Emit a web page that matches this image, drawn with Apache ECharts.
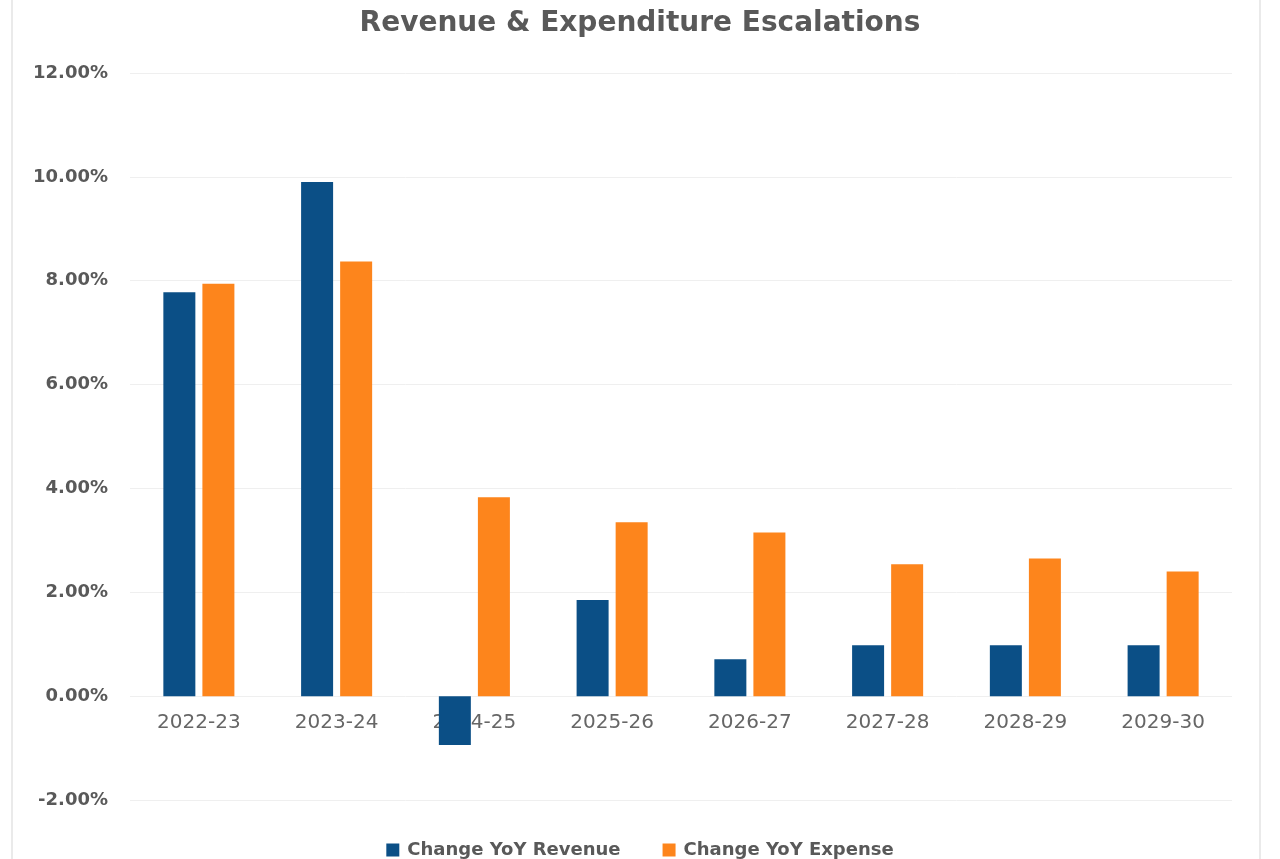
<!DOCTYPE html>
<html>
<head>
<meta charset="utf-8">
<title>Revenue & Expenditure Escalations</title>
<script src="https://cdn.jsdelivr.net/npm/echarts@6/dist/echarts.min.js"></script>
<style>
  html, body { margin: 0; padding: 0; background: #fff; }
  #chart { width: 1280px; height: 859px; }
</style>
</head>
<body>
<div id="chart"></div>
<script>
  // data (percent)
  let years = ['2022-23', '2023-24', '2024-25', '2025-26', '2026-27', '2027-28', '2028-29', '2029-30']
  let revenueChange = [7.78, 9.90, -0.94, 1.85, 0.71, 0.98, 0.98, 0.98]
  let expenseChange = [7.94, 8.37, 3.83, 3.35, 3.15, 2.54, 2.65, 2.40]

  let chart = echarts.init(document.getElementById('chart'))
  let font = '"DejaVu Sans", sans-serif'

  let option = {
    animation: false,
    title: {
      text: 'Revenue & Expenditure Escalations',
      left: 'center',
      top: 5,
      textStyle: { color: '#595959', fontSize: 28, fontWeight: 'bold', fontFamily: font }
    },
    legend: {
      top: 836,
      left: 'center',
      itemWidth: 13,
      itemHeight: 13,
      itemGap: 42,
      icon: 'rect',
      textStyle: { color: '#595959', fontSize: 18, fontWeight: 'bold', fontFamily: font, padding: [0, 0, 0, 3] }
    },
    graphic: [{
      type: 'rect',
      shape: { x: 12, y: -5, width: 1248, height: 880 },
      style: { fill: 'none', stroke: '#e4e4e4', lineWidth: 1.5 },
      silent: true
    }],
    grid: { left: 130, right: 48, top: 73, bottom: 59 },
    xAxis: {
      type: 'category',
      data: years,
      // pull the axis up from the bottom (-2%) to the zero line
      offset: -104,
      axisLine: { show: false },
      axisTick: { show: false },
      axisLabel: { color: '#666666', fontSize: 20, fontFamily: font, margin: 17 }
    },
    yAxis: {
      type: 'value',
      min: -2,
      max: 12,
      interval: 2,
      axisLine: { show: false },
      axisTick: { show: false },
      splitLine: { lineStyle: { color: '#efefef', width: 1 } },
      axisLabel: {
        color: '#595959', fontSize: 18, fontWeight: 'bold', fontFamily: font, margin: 22,
        formatter: v => v.toFixed(2) + '%'
      }
    },
    series: [{
      name: 'Change YoY Revenue',
      type: 'bar',
      data: revenueChange,
      barWidth: 32,
      barGap: '22%',
      z: 3,
      itemStyle: { color: '#0b4f86' }
    }, {
      name: 'Change YoY Expense',
      type: 'bar',
      data: expenseChange,
      barWidth: 32,
      z: 3,
      itemStyle: { color: '#fd851c' }
    }]
  }
  chart.setOption(option)
</script>
</body>
</html>
